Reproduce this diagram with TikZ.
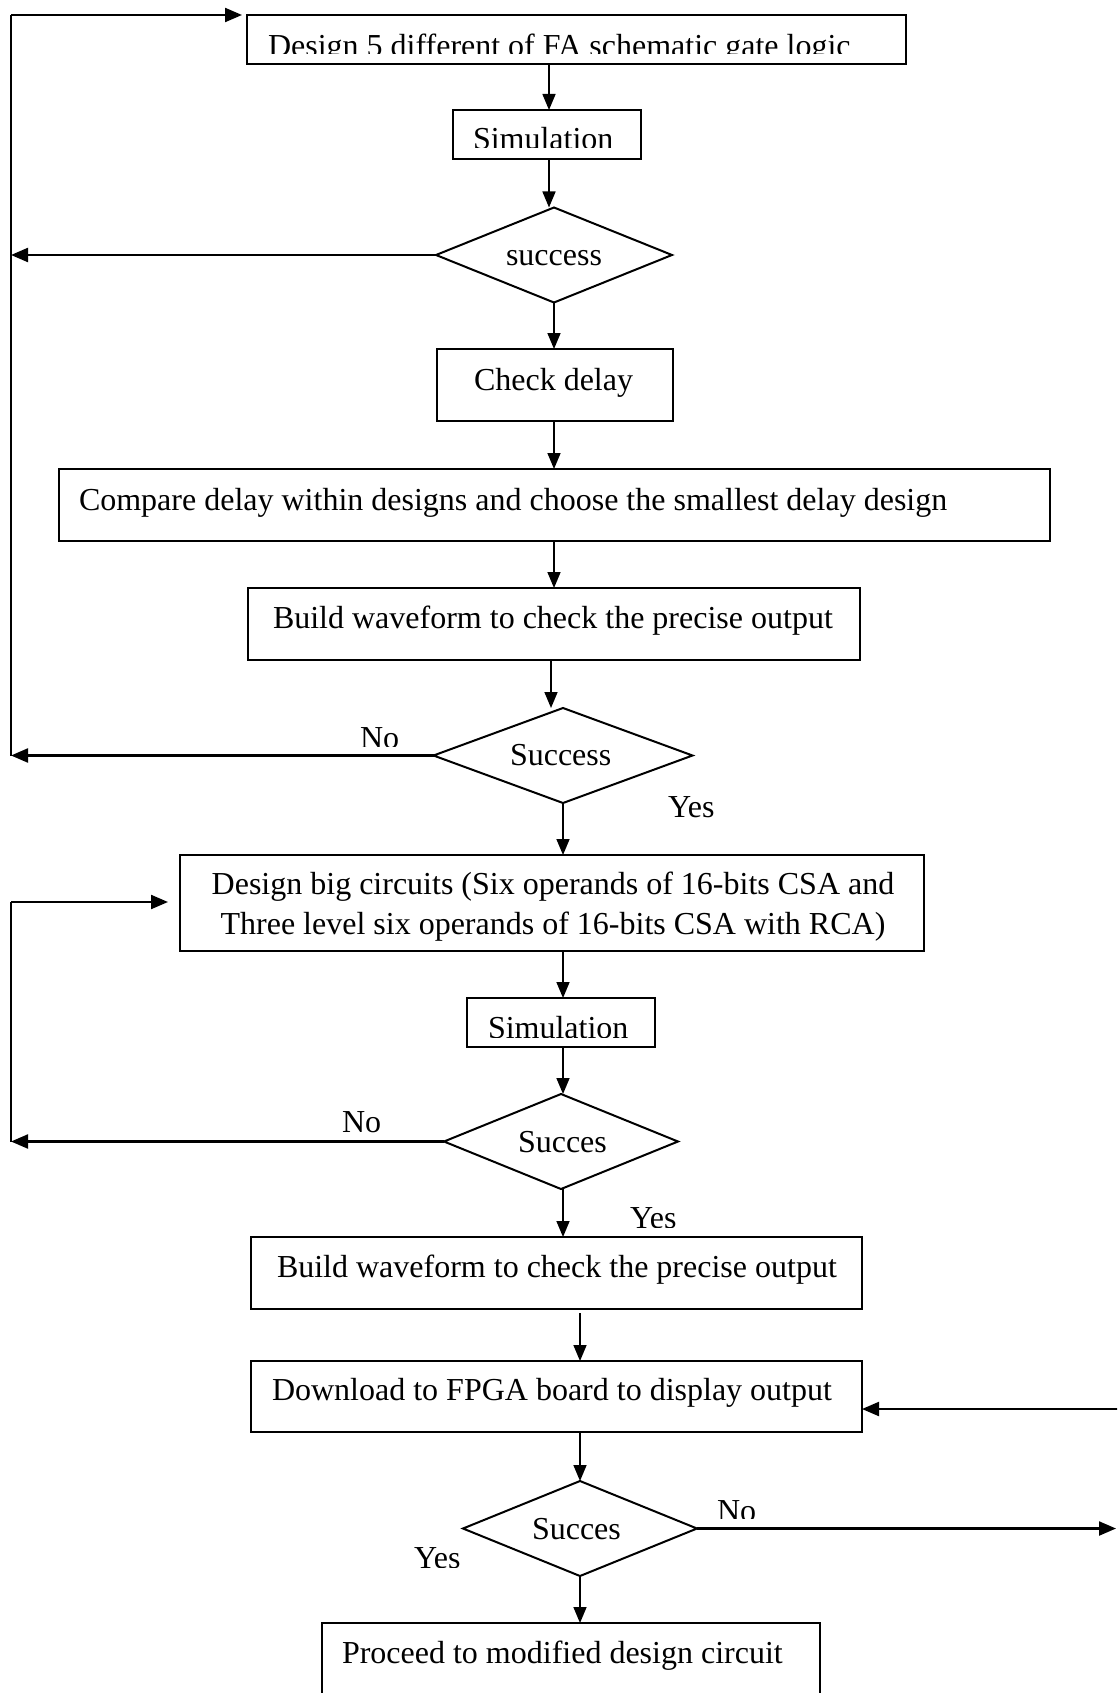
\documentclass[tikz,border=0pt]{standalone}
\usepackage{fontspec}
\setmainfont{Liberation Serif}
\usetikzlibrary{arrows.meta,shapes.geometric}
\tikzset{
  box/.style={draw, line width=2pt, inner sep=0pt, outer sep=0pt, anchor=north west},
  dia/.style={draw, diamond, line width=2pt, inner sep=0pt, outer sep=0pt},
  txt/.style={inner sep=0pt, outer sep=0pt, anchor=base west, font=\fontsize{32}{40}\selectfont},
  arr/.style={-{Triangle[length=16pt,width=13pt]}, line width=1.6pt},
  looparr/.style={-{Triangle[length=17pt,width=14pt]}, line width=2.2pt},
  loopline/.style={line width=2.2pt},
}
\begin{document}
\begin{tikzpicture}[x=1pt,y=-1pt]
\path[use as bounding box] (0,0) rectangle (1117,1693);
\clip (0,0) rectangle (1117,1693);

% boxes and decisions
\node[box, minimum width=659pt, minimum height=49pt] (b1) at (247,15) {};
\node[box, minimum width=188pt, minimum height=49pt] (s1) at (453,110) {};
\node[dia, minimum width=236pt, minimum height=95pt] (d1) at (554,255) {};
\node[box, minimum width=236pt, minimum height=72pt] (ck) at (437,349) {};
\node[box, minimum width=991pt, minimum height=72pt] (cmp) at (59,469) {};
\node[box, minimum width=612pt, minimum height=72pt] (bw1) at (248,588) {};
\node[dia, minimum width=259pt, minimum height=95pt] (d2) at (563,755.5) {};
\node[box, minimum width=744pt, minimum height=96pt] (big) at (180,855) {};
\node[box, minimum width=188pt, minimum height=49pt] (s2) at (467,998) {};
\node[dia, minimum width=234pt, minimum height=95pt] (d3) at (561,1141.5) {};
\node[box, minimum width=611pt, minimum height=72pt] (bw2) at (251,1237) {};
\node[box, minimum width=611pt, minimum height=71pt] (dl) at (251,1361) {};
\node[dia, minimum width=234pt, minimum height=95pt] (d4) at (580,1528.5) {};
\node[box, minimum width=498pt, minimum height=100pt] (pr) at (322,1623) {};

% texts
\begin{scope}
  \clip (0,0) rectangle (1117,54);
  \node[txt] (tb1) at (268,57) {Design 5 different of FA schematic gate logic};
\end{scope}
\begin{scope}
  \clip (0,100) rectangle (1117,148);
  \node[txt] (ts1) at (473,150) {Simulation};
\end{scope}
\node[txt] (td1) at (506,266) {success};
\node[txt] (tck) at (474,390) {Check delay};
\node[txt] (tcmp) at (79,510) {Compare delay within designs and choose the smallest delay design};
\node[txt] (tbw1) at (273,628) {Build waveform to check the precise output};
\node[txt] (td2) at (510,765) {Success};
\begin{scope}
  \clip (0,700) rectangle (1117,746);
  \node[txt] (no2) at (360,748) {No};
\end{scope}
\node[txt] (yes2) at (668,817) {Yes};
\node[txt, anchor=base, align=center] (tbig) at (553,934) {Design big circuits (Six operands of 16-bits CSA and\\Three level six operands of 16-bits CSA with RCA)};
\begin{scope}
  \clip (0,990) rectangle (1117,1037);
  \node[txt] (ts2) at (488,1038) {Simulation};
\end{scope}
\node[txt] (td3) at (518,1152) {Succes};
\node[txt] (no3) at (342,1132) {No};
\begin{scope}
  \clip (0,1190) rectangle (1117,1227);
  \node[txt] (yes3) at (630,1228) {Yes};
\end{scope}
\node[txt] (tbw2) at (277,1277) {Build waveform to check the precise output};
\node[txt] (tdl) at (272,1400) {Download to FPGA board to display output};
\node[txt] (td4) at (532,1539) {Succes};
\begin{scope}
  \clip (0,1480) rectangle (1117,1518);
  \node[txt] (no4) at (717,1521) {No};
\end{scope}
\begin{scope}
  \clip (0,1530) rectangle (1117,1567);
  \node[txt] (yes4) at (414,1568) {Yes};
\end{scope}
\node[txt] (tpr) at (342,1663) {Proceed to modified design circuit};

% column and loop coordinates
\coordinate (xa) at (549,0);
\coordinate (xb) at (554,0);
\coordinate (xc) at (551,0);
\coordinate (xd) at (563,0);
\coordinate (xe) at (580,0);
\coordinate (LT1) at (11,15);
\coordinate (LT2) at (11,902);
\coordinate (R1) at (1120,1409);
\coordinate (R2) at (1116,1528.5);

% main flow
\draw[arr] (b1.south -| xa) -- (s1.north -| xa);
\draw[arr] (s1.south -| xa) -- (d1.north -| xa);
\draw[arr] (d1.south) -- (ck.north -| d1.south);
\draw[arr] (ck.south -| xb) -- (cmp.north -| xb);
\draw[arr] (cmp.south -| xb) -- (bw1.north -| xb);
\draw[arr] (bw1.south -| xc) -- (d2.north -| xc);
\draw[arr] (d2.south -| xd) -- (big.north -| xd);
\draw[arr] (big.south -| xd) -- (s2.north -| xd);
\draw[arr] (s2.south -| xd) -- (d3.north -| xd);
\draw[arr] (d3.south -| xd) -- (bw2.north -| xd);
\draw[arr, shorten <=4pt] (bw2.south -| xe) -- (dl.north -| xe);
\draw[arr] (dl.south -| xe) -- (d4.north -| xe);
\draw[arr] (d4.south -| xe) -- (pr.north -| xe);

% first loop
\draw[loopline] (d2.west -| LT1) -- (LT1);
\draw[looparr, shorten >=5pt] (LT1) -- (b1.north west);
\draw[looparr] (d1.west) -- (d1.west -| LT1);
\draw[looparr] (d2.west) -- (d2.west -| LT1);

% second loop
\draw[loopline] (d3.west -| LT2) -- (LT2);
\draw[looparr, shorten >=12pt] (LT2) -- (big.west |- LT2);
\draw[looparr] (d3.west) -- (d3.west -| LT2);

% right side
\draw[looparr] (R1) -- (dl.east |- R1);
\draw[looparr] (d4.east) -- (R2);
\end{tikzpicture}
\end{document}
